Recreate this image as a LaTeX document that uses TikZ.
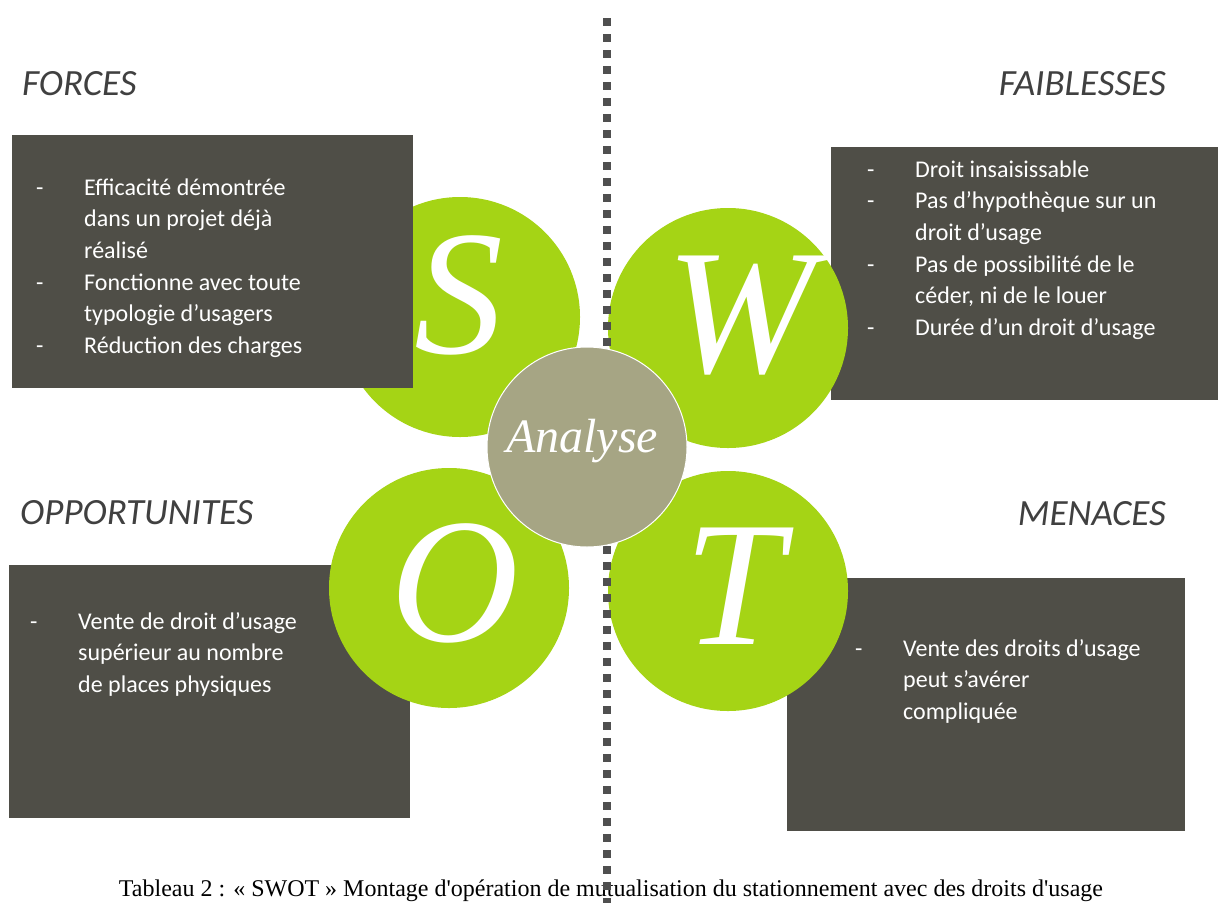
\documentclass[tikz,border=0pt]{standalone}
\usepackage{fontspec}
\setmainfont{Carlito}
\newfontfamily\timesfont{Liberation Serif}
\usepackage{tikz}

\definecolor{boxgray}{HTML}{4F4E47}
\definecolor{limegreen}{HTML}{A5D415}
\definecolor{sage}{HTML}{A6A584}
\definecolor{dotgray}{HTML}{4F4F4F}
\definecolor{headgray}{HTML}{404040}

\newcommand{\itm}[1]{\strut\makebox[48pt][l]{-}#1}
\newcommand{\contline}[1]{\strut\hspace*{48pt}#1}

\begin{document}
\begin{tikzpicture}[x=1pt, y=-1pt,
    panel/.style ={rectangle, fill=boxgray, inner sep=0pt, anchor=north west, minimum height=253pt},
    petal/.style ={circle, fill=limegreen, inner sep=0pt, minimum size=240pt},
    letter/.style ={text=white, inner sep=0pt, anchor=base, font=\timesfont\itshape\fontsize{178}{178}\selectfont},
    heading/.style ={text=headgray, inner sep=0pt, font=\itshape\fontsize{37}{40}\selectfont},
    itemlist/.style ={text=white, align=left, inner sep=0pt, anchor=north west, font=\fontsize{24}{31.6}\selectfont}]
   \useasboundingbox (0,0) rectangle (1218,903);

   \node[inner sep=0pt, anchor=base, font=\timesfont\fontsize{24}{28}\selectfont] (legend) at (611,896)
     {Tableau 2 : « SWOT » Montage d\textquotesingle op\'eration de mutualisation du stationnement avec des droits d\textquotesingle usage};

   \node[petal] (S) at (460,317) {};
   \node[panel, minimum width=401pt] (forcesbox) at (12,135) {};
   \node[panel, minimum width=387pt] (faiblessesbox) at (831,147) {};
   \node[panel, minimum width=401pt] (opportunitesbox) at (9,565) {};
   \node[panel, minimum width=398pt] (menacesbox) at (787,578) {};
   \node[petal] (W) at (728,328) {};
   \node[petal] (O) at (449,588) {};
   \node[petal] (T) at (728,591) {};

   \node[letter] (Sl) at (459,353) {S};
   \node[letter] (Wl) at (741,372) {W};
   \node[letter] (Ol) at (455,641) {O};
   \node[letter] (Tl) at (734,644) {T};

   \coordinate (top) at (607,18);
   \coordinate (bottom) at (607,903);
   \draw[dotgray, line width=8pt, dash pattern=on 8pt off 8pt] (top) -- (bottom);

   \node[circle, fill=sage, draw=white, line width=1pt, inner sep=0pt, minimum size=200pt] (analyse) at (587,447) {};
   \node[text=white, inner sep=0pt, anchor=base, font=\timesfont\itshape\fontsize{48}{48}\selectfont] (analysetext) at (582,452) {Analyse};

   \node[heading, anchor=base west] (forces) at (22,95) {FORCES};
   \node[heading, anchor=base east] (faiblesses) at (1166,95) {FAIBLESSES};
   \node[heading, anchor=base west] (opportunites) at (20,524) {OPPORTUNITES};
   \node[heading, anchor=base east] (menaces) at (1166,525) {MENACES};

   \node[itemlist] (forceslist) at (36,173) {\itm{Efficacité démontrée}\\ \contline{dans un projet déjà}\\ \contline{réalisé}\\
     \itm{Fonctionne avec toute}\\ \contline{typologie d’usagers}\\ \itm{Réduction des charges}};
   \node[itemlist] (faiblesseslist) at (867,155) {\itm{Droit insaisissable}\\ \itm{Pas d’hypothèque sur un}\\ \contline{droit d’usage}\\
     \itm{Pas de possibilité de le}\\ \contline{céder, ni de le louer}\\ \itm{Durée d’un droit d’usage}};
   \node[itemlist] (opportuniteslist) at (30,607) {\itm{Vente de droit d’usage}\\ \contline{supérieur au nombre}\\ \contline{de places physiques}};
   \node[itemlist] (menaceslist) at (855,634) {\itm{Vente des droits d’usage}\\ \contline{peut s’avérer}\\ \contline{compliquée}};
 \end{tikzpicture}
\end{document}
